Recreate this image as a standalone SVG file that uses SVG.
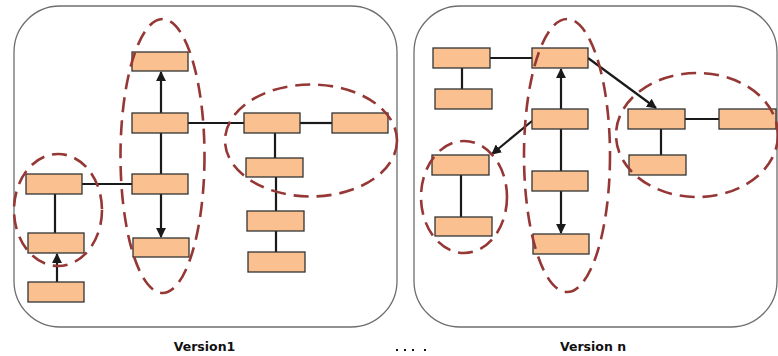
<svg xmlns="http://www.w3.org/2000/svg" width="778" height="356" viewBox="0 0 778 356">
  <style>
    .panel { fill: #ffffff; stroke: #6e6e6e; stroke-width: 1.3; }
    .box { fill: #FAC090; stroke: #333333; stroke-width: 1.3; }
    .link { stroke: #1a1a1a; stroke-width: 2.2; fill: none; }
    .group { fill: none; stroke: #953735; stroke-width: 2.6; stroke-dasharray: 15 8; }
    .label { font-family: "DejaVu Sans", Verdana, sans-serif; font-weight: bold; font-size: 12.5px; fill: #111111; text-anchor: middle; }
  </style>
  <defs>
    <marker id="arrow" viewBox="0 0 10 10" refX="9" refY="5" markerWidth="4.5" markerHeight="4.5" orient="auto" markerUnits="strokeWidth">
      <path d="M0,0 L10,5 L0,10 z" fill="#1a1a1a"/>
    </marker>
  </defs>

  <rect width="778" height="356" fill="#ffffff"/>

  <!-- panels -->
  <rect id="panel-v1" class="panel" x="14" y="6" width="383" height="321" rx="46" ry="46"/>
  <rect id="panel-vn" class="panel" x="414" y="6" width="363" height="321" rx="46" ry="46"/>

  <!-- connectors -->
  <g id="connectors">
    <!-- version 1 -->
    <line class="link" x1="161" y1="113" x2="161" y2="72" marker-end="url(#arrow)"/>
    <line class="link" x1="188" y1="123" x2="244" y2="123"/>
    <line class="link" x1="300" y1="123" x2="332" y2="123"/>
    <line class="link" x1="161" y1="133" x2="161" y2="174"/>
    <line class="link" x1="161" y1="194" x2="161" y2="237" marker-end="url(#arrow)"/>
    <line class="link" x1="82" y1="184" x2="132" y2="184"/>
    <line class="link" x1="55" y1="194" x2="55" y2="233"/>
    <line class="link" x1="57" y1="282" x2="57" y2="254" marker-end="url(#arrow)"/>
    <line class="link" x1="275" y1="133" x2="275" y2="158"/>
    <line class="link" x1="276" y1="177" x2="276" y2="211"/>
    <line class="link" x1="276" y1="231" x2="276" y2="252"/>
    <!-- version n -->
    <line class="link" x1="490" y1="58" x2="532" y2="58"/>
    <line class="link" x1="462" y1="68" x2="462" y2="89"/>
    <line class="link" x1="561" y1="109" x2="561" y2="69" marker-end="url(#arrow)"/>
    <line class="link" x1="561" y1="129" x2="561" y2="171"/>
    <line class="link" x1="561" y1="191" x2="561" y2="233" marker-end="url(#arrow)"/>
    <line class="link" x1="588" y1="58" x2="656" y2="108" marker-end="url(#arrow)"/>
    <line class="link" x1="532" y1="121" x2="492" y2="154" marker-end="url(#arrow)"/>
    <line class="link" x1="461" y1="175" x2="461" y2="217"/>
    <line class="link" x1="685" y1="119" x2="719" y2="119"/>
    <line class="link" x1="661" y1="129" x2="661" y2="155"/>
  </g>

  <!-- version 1 nodes -->
  <g id="v1-a"><rect class="box" x="132" y="52" width="56" height="19"/></g>
  <g id="v1-b"><rect class="box" x="132" y="113" width="56" height="20"/></g>
  <g id="v1-c"><rect class="box" x="132" y="174" width="56" height="20"/></g>
  <g id="v1-d"><rect class="box" x="133" y="238" width="56" height="19"/></g>
  <g id="v1-e"><rect class="box" x="26" y="174" width="56" height="20"/></g>
  <g id="v1-f"><rect class="box" x="28" y="233" width="56" height="20"/></g>
  <g id="v1-g"><rect class="box" x="28" y="282" width="56" height="20"/></g>
  <g id="v1-h"><rect class="box" x="244" y="113" width="56" height="20"/></g>
  <g id="v1-i"><rect class="box" x="332" y="113" width="56" height="20"/></g>
  <g id="v1-j"><rect class="box" x="246" y="158" width="57" height="19"/></g>
  <g id="v1-k"><rect class="box" x="247" y="211" width="57" height="20"/></g>
  <g id="v1-l"><rect class="box" x="248" y="252" width="57" height="20"/></g>

  <!-- version n nodes -->
  <g id="vn-p1"><rect class="box" x="433" y="48" width="57" height="20"/></g>
  <g id="vn-p2"><rect class="box" x="435" y="89" width="57" height="20"/></g>
  <g id="vn-q1"><rect class="box" x="532" y="48" width="56" height="20"/></g>
  <g id="vn-q2"><rect class="box" x="532" y="109" width="56" height="20"/></g>
  <g id="vn-q3"><rect class="box" x="532" y="171" width="56" height="20"/></g>
  <g id="vn-q4"><rect class="box" x="533" y="234" width="56" height="20"/></g>
  <g id="vn-r1"><rect class="box" x="432" y="155" width="57" height="20"/></g>
  <g id="vn-r2"><rect class="box" x="435" y="217" width="57" height="19"/></g>
  <g id="vn-s1"><rect class="box" x="628" y="109" width="57" height="20"/></g>
  <g id="vn-s2"><rect class="box" x="719" y="109" width="57" height="20"/></g>
  <g id="vn-s3"><rect class="box" x="629" y="155" width="57" height="20"/></g>

  <!-- dashed groupings -->
  <g id="groups">
    <ellipse class="group" cx="58" cy="210" rx="44" ry="56"/>
    <ellipse class="group" cx="162.5" cy="156" rx="42" ry="137"/>
    <ellipse class="group" cx="311" cy="140.5" rx="86" ry="56"/>
    <ellipse class="group" cx="464" cy="197" rx="43" ry="56"/>
    <ellipse class="group" cx="567" cy="155.5" rx="43" ry="136.5"/>
    <ellipse class="group" cx="697" cy="135" rx="81" ry="62"/>
  </g>

  <!-- captions -->
  <text class="label" x="204.5" y="351">Version1</text>
  <text class="label" x="593" y="351">Version n</text>
  <g id="ellipsis" fill="#111111">
    <rect x="396" y="349" width="2" height="2"/>
    <rect x="404" y="349" width="2" height="2"/>
    <rect x="412" y="349" width="2" height="2"/>
    <rect x="424" y="349" width="2" height="2"/>
  </g>
</svg>
